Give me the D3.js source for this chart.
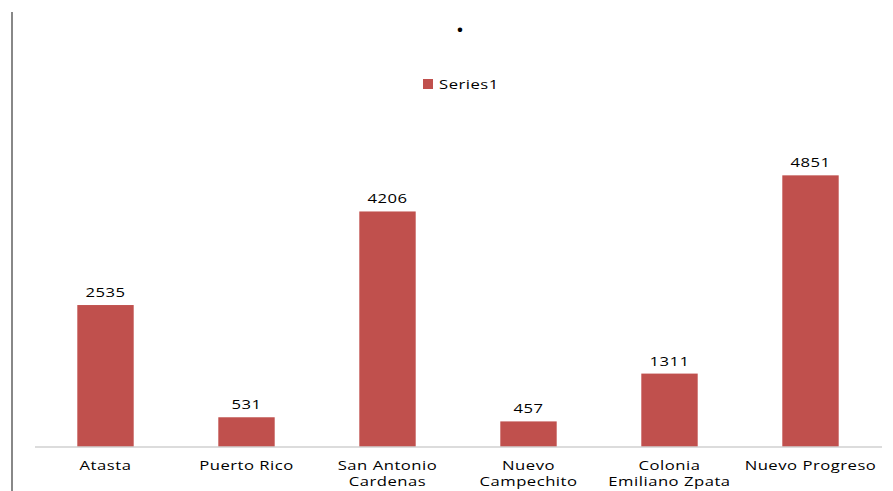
<!DOCTYPE html>
<html>
<head>
<meta charset="utf-8">
<script src="https://cdn.jsdelivr.net/npm/d3@7"></script>
<style>
  body { margin: 0; background: #fff; }
  text { font-family: "Open Sans", sans-serif; fill: #000; }
</style>
</head>
<body>
<div id="chart"></div>
<script>
// chart data
const categories = ["Atasta", "Puerto Rico", "San Antonio Cardenas", "Nuevo Campechito", "Colonia Emiliano Zpata", "Nuevo Progreso"];
const labelLines = [["Atasta"], ["Puerto Rico"], ["San Antonio", "Cardenas"], ["Nuevo", "Campechito"], ["Colonia", "Emiliano Zpata"], ["Nuevo Progreso"]];
const series1 = [2535, 531, 4206, 457, 1311, 4851];
const seriesName = "Series1";

const width = 893, height = 491;
const margin = {top: 111, right: 12, bottom: 44, left: 35};
const stretch = 1.28; // the original text looks widened horizontally

const svg = d3.select("#chart")
  .append("svg")
    .attr("width", width)
    .attr("height", height);

// grey frame line on the left
svg.append("line")
  .attr("x1", 12).attr("x2", 12)
  .attr("y1", 12).attr("y2", height)
  .attr("stroke", "#888").attr("stroke-width", 2);

var xScale = d3.scaleBand()
  .domain(categories)
  .range([margin.left, width - margin.right])
  .paddingInner(0.6)
  .paddingOuter(0.3);

var yScale = d3.scaleLinear()
  .domain([0, 6000])
  .range([height - margin.bottom, margin.top]);

function place(x, y) {
  return "translate(" + x + "," + y + ") scale(" + stretch + ",1)";
}

// bars
svg.selectAll("rect.bar")
  .data(series1)
  .enter()
  .append("rect")
  .attr("class", "bar")
  .attr("x", (d, i) => xScale(categories[i]))
  .attr("y", d => yScale(d))
  .attr("width", xScale.bandwidth())
  .attr("height", d => yScale(0) - yScale(d))
  .attr("fill", "#c0504d");

// value labels
svg.selectAll("text.val")
  .data(series1)
  .enter()
  .append("text")
  .attr("class", "val")
  .attr("transform", (d, i) => place(xScale(categories[i]) + xScale.bandwidth() / 2, yScale(d) - 8))
  .attr("text-anchor", "middle")
  .attr("font-size", 13)
  .attr("letter-spacing", 0.4)
  .text(d => d);

// x axis
var xAxis = svg.append("g")
  .attr("transform", "translate(0," + yScale(0) + ")")
  .call(d3.axisBottom(xScale).tickSize(0).tickFormat(""));
xAxis.select(".domain").attr("stroke", "#d0d0d0").attr("stroke-width", 1.5)
  .attr("d", "M" + margin.left + ",0H" + (width - margin.right + 1));

xAxis.selectAll(".tick").each(function(d, i) {
  var t = d3.select(this).append("text")
    .attr("transform", place(0, 0))
    .attr("text-anchor", "middle")
    .attr("font-size", 13)
    .attr("letter-spacing", 0.4)
    .attr("fill", "#000");
  labelLines[i].forEach((line, j) => {
    t.append("tspan").attr("x", 0).attr("y", 23 + j * 16).text(line);
  });
});

// title (just a dot)
svg.append("text")
  .attr("x", 460).attr("y", 32)
  .attr("text-anchor", "middle")
  .attr("font-size", 26)
  .attr("font-weight", "bold")
  .text(".");

// legend
svg.append("rect")
  .attr("x", 423).attr("y", 79)
  .attr("width", 10).attr("height", 10)
  .attr("fill", "#c0504d");
svg.append("text")
  .attr("transform", place(439, 89))
  .attr("font-size", 13)
  .attr("letter-spacing", 0.4)
  .text(seriesName);
</script>
</body>
</html>
